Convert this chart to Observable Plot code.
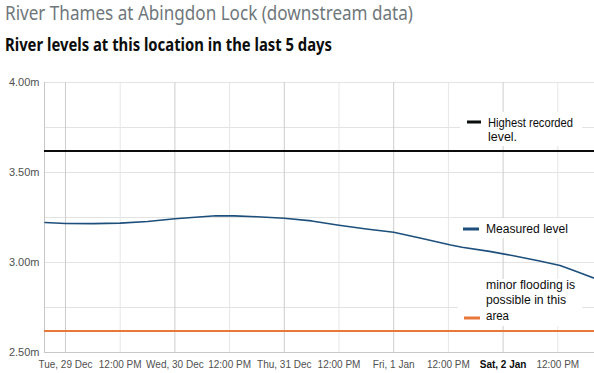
<!DOCTYPE html>
<html>
<head>
<meta charset="utf-8">
<script src="https://cdn.jsdelivr.net/npm/d3@7"></script>
<script src="https://cdn.jsdelivr.net/npm/@observablehq/plot@0.6"></script>
<style>
  html, body { margin: 0; padding: 0; background: #fff; }
  #wrap { position: relative; width: 594px; height: 373px; overflow: hidden; }
  #chart { position: absolute; left: 0; top: 70px; }
  #overlay { position: absolute; left: 0; top: 0; pointer-events: none; }
</style>
</head>
<body>
<div id="wrap">
  <div id="chart"></div>
  <svg id="overlay" width="594" height="373"></svg>
</div>
<script>
// ---- data ----
const measuredTimes = [
  "2020-12-28T19:30Z", "2020-12-29T00:00Z", "2020-12-29T06:00Z", "2020-12-29T12:00Z",
  "2020-12-29T18:00Z", "2020-12-30T00:00Z", "2020-12-30T06:00Z", "2020-12-30T09:00Z",
  "2020-12-30T13:00Z", "2020-12-30T18:00Z", "2020-12-31T00:00Z", "2020-12-31T06:00Z",
  "2020-12-31T12:00Z", "2020-12-31T18:00Z", "2021-01-01T00:00Z", "2021-01-01T06:00Z",
  "2021-01-01T12:30Z", "2021-01-01T15:00Z", "2021-01-01T21:00Z", "2021-01-02T02:00Z",
  "2021-01-02T08:00Z", "2021-01-02T12:30Z", "2021-01-02T15:30Z", "2021-01-02T20:00Z"
];
const measuredLevels = [
  3.222, 3.217, 3.216, 3.219,
  3.228, 3.243, 3.254, 3.260,
  3.259, 3.254, 3.246, 3.231,
  3.207, 3.186, 3.168, 3.135,
  3.097, 3.085, 3.062, 3.039,
  3.008, 2.983, 2.956, 2.913
];
const highestRecorded = 3.62;
const minorFlooding = 2.62;

const xTickTimes = [
  "2020-12-29T00:00Z", "2020-12-29T12:00Z", "2020-12-30T00:00Z", "2020-12-30T12:00Z",
  "2020-12-31T00:00Z", "2020-12-31T12:00Z", "2021-01-01T00:00Z", "2021-01-01T12:00Z",
  "2021-01-02T00:00Z", "2021-01-02T12:00Z"
];
const xTickLabels = [
  "Tue, 29 Dec", "12:00 PM", "Wed, 30 Dec", "12:00 PM",
  "Thu, 31 Dec", "12:00 PM", "Fri, 1 Jan", "12:00 PM",
  "Sat, 2 Jan", "12:00 PM"
];
const yTickValues = [2.5, 3.0, 3.5, 4.0];
const yGridValues = [2.75, 3.0, 3.25, 3.5, 3.75, 4.0];
const xDomain = ["2020-12-28T19:24Z", "2021-01-02T20:03Z"].map(s => new Date(s));

// ---- build ----
const data = measuredTimes.map((t, i) => ({t: new Date(t), v: measuredLevels[i]}));
const ticks = xTickTimes.map(s => new Date(s));
const labelOf = new Map(ticks.map((d, i) => [+d, xTickLabels[i]]));
const midnightTicks = ticks.filter(d => d.getUTCHours() === 0);
const noonTicks = ticks.filter(d => d.getUTCHours() !== 0);

const chart = Plot.plot({
  width: 594,
  height: 303,
  marginTop: 12,
  marginBottom: 21,
  marginLeft: 44,
  marginRight: 0,
  style: {fontFamily: "'Liberation Sans', Arial, sans-serif", fontSize: "10px", color: "#505050", background: "transparent"},
  x: {type: "utc", domain: xDomain, label: null},
  y: {domain: [2.5, 4], label: null},
  marks: [
    Plot.ruleY(yGridValues, {stroke: "#e3e3e3"}),
    Plot.ruleX(noonTicks, {stroke: "#e6e6e6"}),
    Plot.ruleX(midnightTicks, {stroke: "#cdcdcd"}),
    Plot.ruleX([xDomain[0]], {stroke: "#c8c8c8"}),
    Plot.ruleY([2.5], {stroke: "#c8c8c8"}),
    Plot.ruleY([highestRecorded], {stroke: "#0b0c0c", strokeWidth: 2}),
    Plot.ruleY([minorFlooding], {stroke: "#e8773a", strokeWidth: 2}),
    Plot.line(data, {x: "t", y: "v", stroke: "#1d4f7c", strokeWidth: 1.6}),
    Plot.axisY({ticks: yTickValues, tickFormat: d => d.toFixed(2) + "m", tickSize: 0, tickPadding: 5, fontSize: 11, label: null}),
    Plot.axisX({ticks: ticks, tickFormat: d => labelOf.get(+d), tickSize: 0, tickPadding: 8, fontSize: 10, label: null})
  ]
});
document.getElementById("chart").appendChild(chart);

// bold the Saturday tick label
chart.querySelectorAll("text").forEach(t => {
  if (t.textContent.startsWith("Sat")) { t.setAttribute("font-weight", "bold"); t.setAttribute("fill", "#0b0c0c"); }
});

// ---- titles & legend overlay ----
const ns = "http://www.w3.org/2000/svg";
const ov = document.getElementById("overlay");
function rect(x, y, w, h, fill) {
  const r = document.createElementNS(ns, "rect");
  r.setAttribute("x", x); r.setAttribute("y", y); r.setAttribute("width", w); r.setAttribute("height", h);
  r.setAttribute("fill", fill); ov.appendChild(r);
}
function text(str, x, y, size, len, opts = {}) {
  const t = document.createElementNS(ns, "text");
  t.setAttribute("x", x); t.setAttribute("y", y);
  t.setAttribute("font-size", size);
  t.setAttribute("font-family", opts.family || "'Noto Sans', 'Open Sans', sans-serif");
  t.setAttribute("fill", opts.fill || "#0b0c0c");
  if (opts.weight) t.setAttribute("font-weight", opts.weight);
  t.setAttribute("textLength", len);
  t.setAttribute("lengthAdjust", "spacingAndGlyphs");
  t.textContent = str;
  ov.appendChild(t);
}
text("River Thames at Abingdon Lock (downstream data)", 5, 20, 19, 408, {fill: "#6f777b"});
text("River levels at this location in the last 5 days", 5, 51, 17, 327, {weight: "bold"});

// legend boxes
rect(460, 112, 122, 34, "#fff");
rect(457, 218, 120, 20, "#fff");
rect(458, 279, 124, 47, "#fff");
// swatches
rect(467, 120.5, 14, 3, "#0b0c0c");
rect(463, 227.5, 16, 3, "#1d4f7c");
rect(464, 316.5, 16, 3, "#e8773a");
// legend texts
const lf = {family: "'Liberation Sans', Arial, sans-serif"};
text("Highest recorded", 488, 127, 12.5, 85, lf);
text("level.", 488, 141, 12.5, 29, lf);
text("Measured level", 486, 233, 12.5, 82, lf);
text("minor flooding is", 486, 289, 12.5, 89, lf);
text("possible in this", 486, 304, 12.5, 80, lf);
text("area", 486, 320, 12.5, 23, lf);
</script>
</body>
</html>
